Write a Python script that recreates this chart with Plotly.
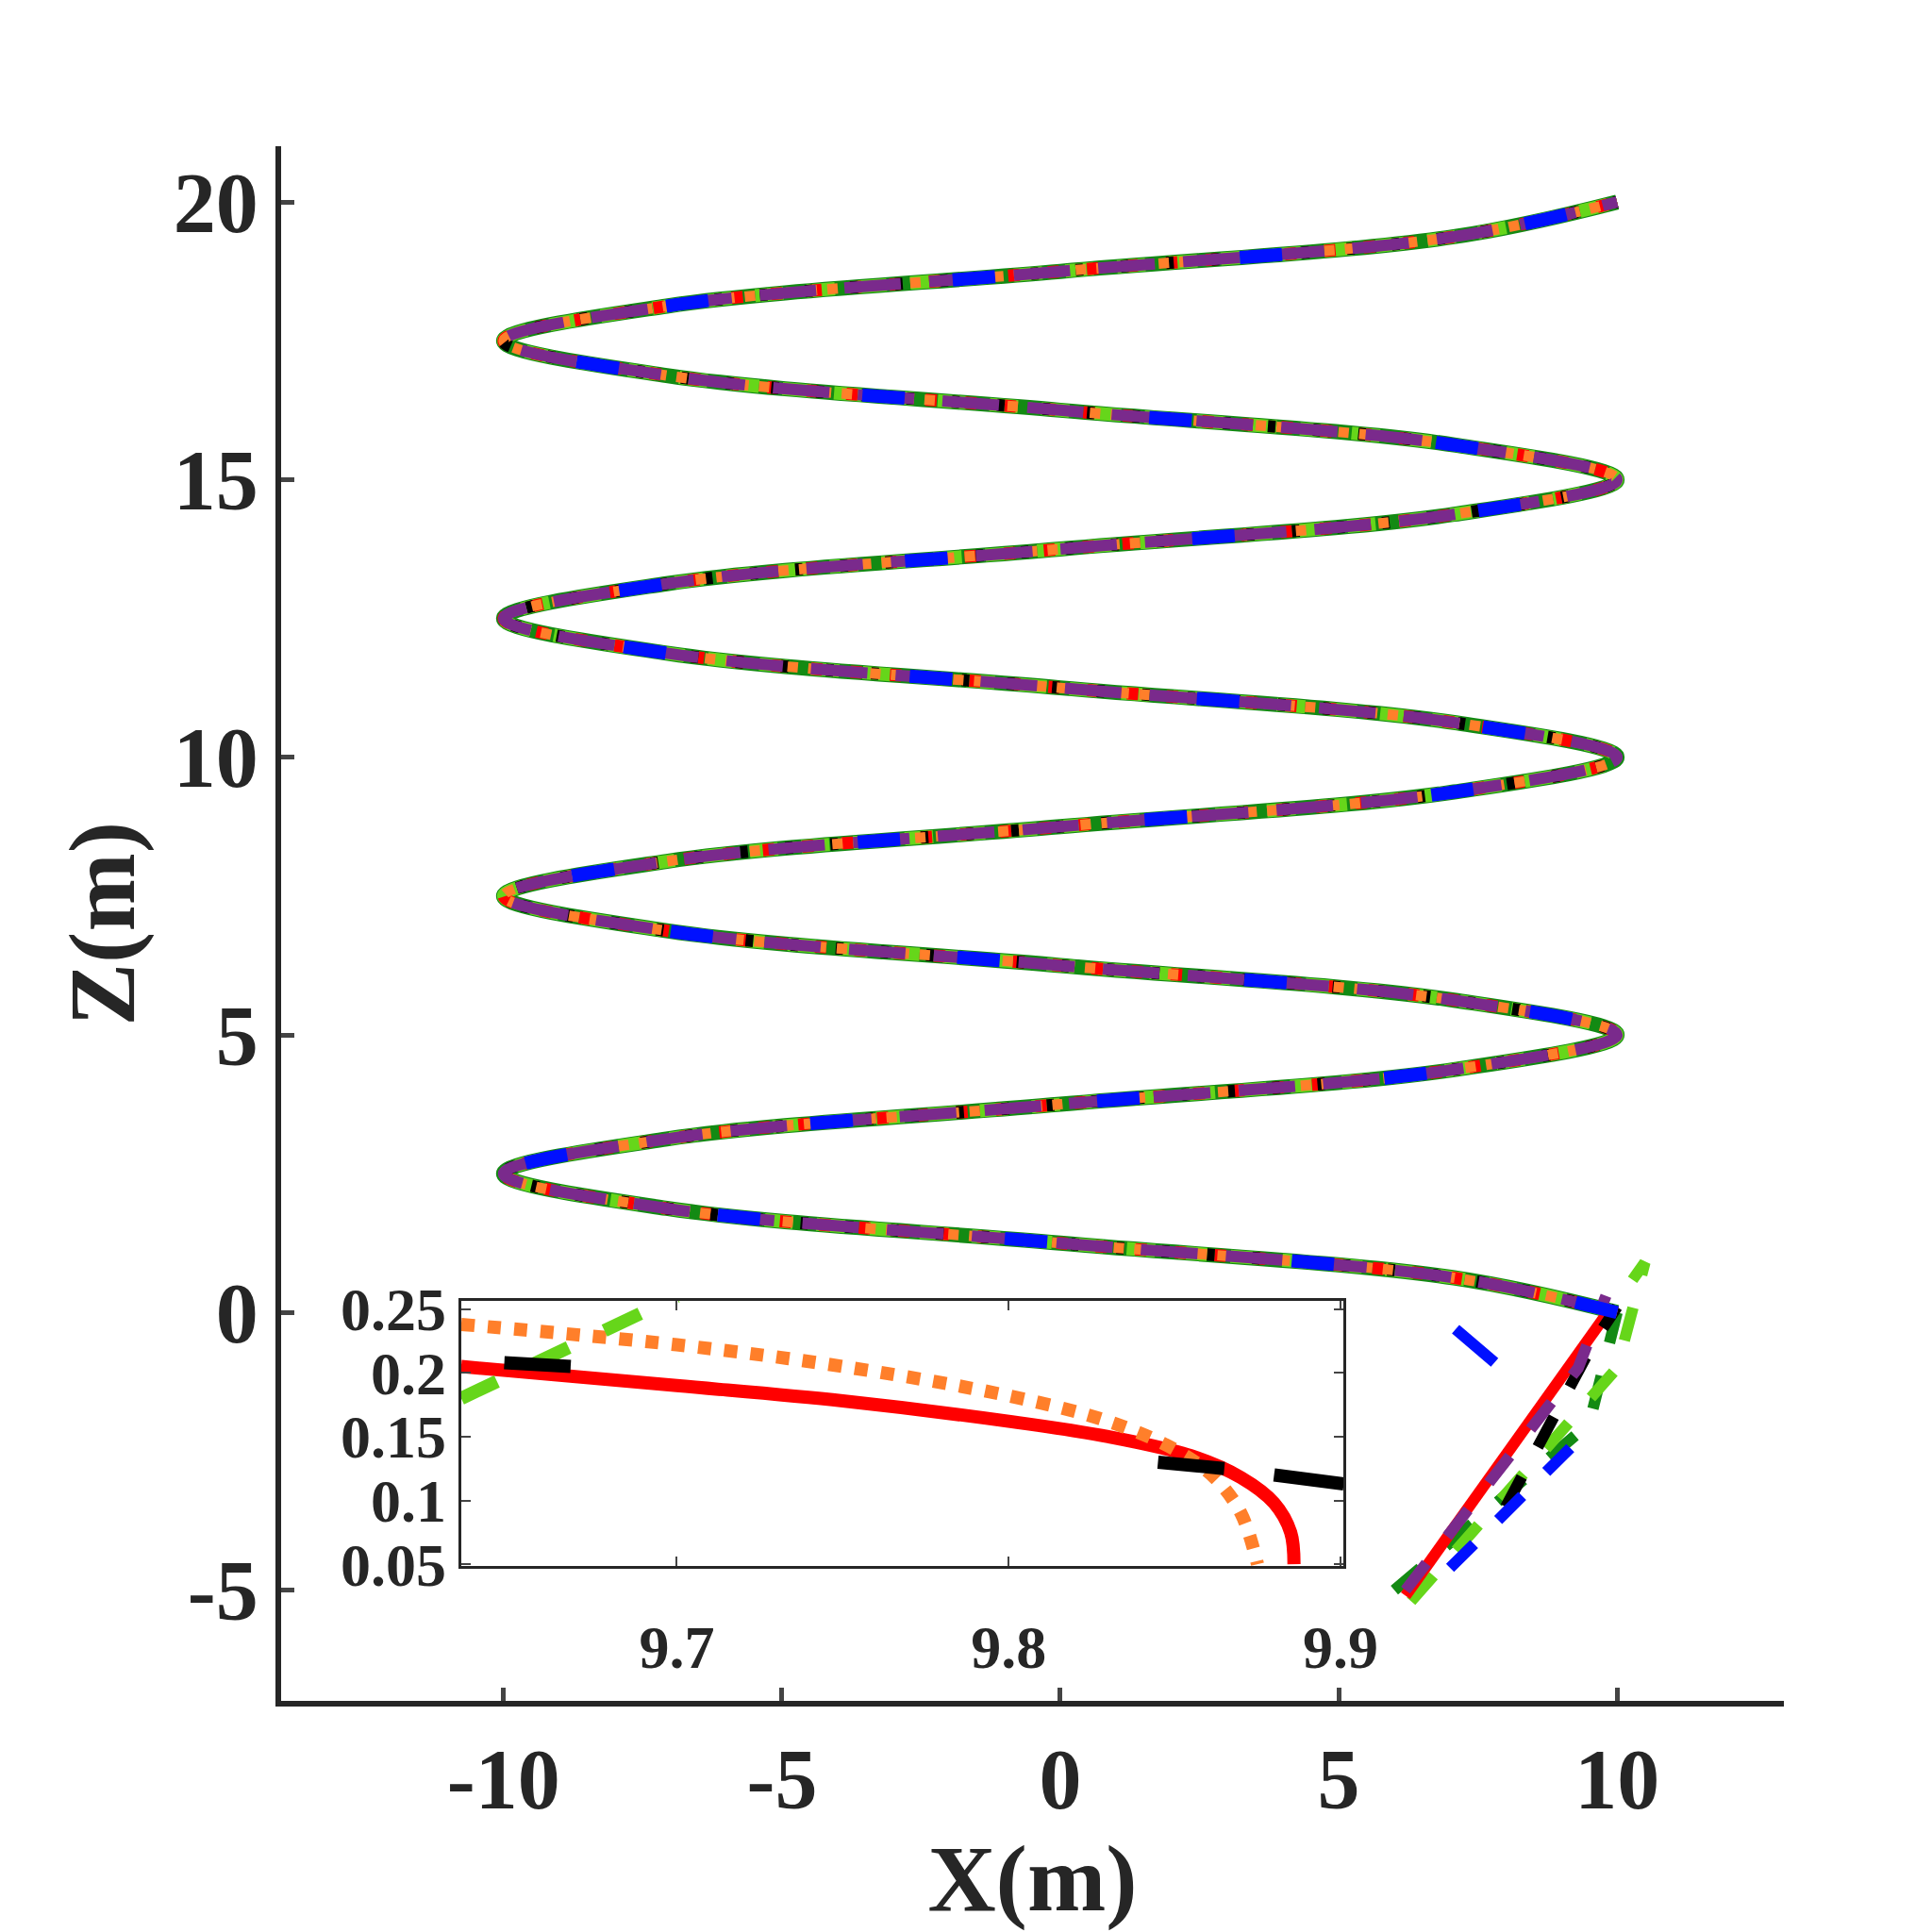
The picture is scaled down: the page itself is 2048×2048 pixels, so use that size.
import plotly.graph_objects as go

# helix points (x at each quarter of a half turn)
turn_x = [10, 7.07, 0, -7.07, -10, -7.07, 0, 7.07]
helix_x = turn_x * 4 + [10]
helix_z = [0, 0.625, 1.25, 1.875, 2.5, 3.125, 3.75, 4.375,
           5, 5.625, 6.25, 6.875, 7.5, 8.125, 8.75, 9.375,
           10, 10.625, 11.25, 11.875, 12.5, 13.125, 13.75, 14.375,
           15, 15.625, 16.25, 16.875, 17.5, 18.125, 18.75, 19.375, 20]

x_ticks = [-10, -5, 0, 5, 10]
x_labels = ["-10", "-5", "0", "5", "10"]
z_ticks = [-5, 0, 5, 10, 15, 20]
z_labels = ["-5", "0", "5", "10", "15", "20"]

# approach segments (start -> helix)
app = {
    "dgreen": ([6.0, 9.5, 10.0], [-5.0, -2.0, 0.0]),
    "lgreen": ([6.3, 10.0, 10.5, 10.0], [-5.2, -1.0, 0.9, 0.2]),
    "red": ([6.2, 9.9], [-5.1, 0.1]),
    "purple": ([6.2, 9.3, 9.8], [-5.0, -1.0, 0.3]),
    "blue": ([7.0, 9.2], [-4.6, -2.4]),
    "black": ([8.0, 9.6, 10.0], [-3.5, -0.5, 0.1]),
}
blue_extra_x = [7.1, 7.8]
blue_extra_z = [-0.3, -0.9]

# inset curves
in_red_x = [9.635, 9.7, 9.75, 9.8, 9.83, 9.855, 9.87, 9.88, 9.885, 9.886]
in_red_y = [0.205, 0.19, 0.178, 0.162, 0.150, 0.135, 0.118, 0.098, 0.075, 0.05]
in_org_x = [9.635, 9.7, 9.75, 9.8, 9.83, 9.85, 9.862, 9.87, 9.875]
in_org_y = [0.238, 0.222, 0.205, 0.182, 0.162, 0.14, 0.118, 0.09, 0.05]
in_lg_x = [9.635, 9.7]
in_lg_y = [0.18, 0.26]
in_bk_x = [9.648, 9.668, None, 9.845, 9.865, None, 9.88, 9.901]
in_bk_y = [0.208, 0.205, None, 0.130, 0.125, None, 0.12, 0.113]

C = dict(dgreen="#138a13", lgreen="#66d61a", red="#ff0000", black="#000000",
         orange="#ff7f2a", blue="#0010ff", purple="#7a2a8c")

fig = go.Figure()
main = [("dgreen", "solid", 16), ("lgreen", "30px,25px", 14),
        ("red", "12px,30px", 13), ("black", "8px,40px", 13), ("orange", "dot", 11),
        ("purple", "60px,30px", 12), ("blue", "45px,260px", 14)]
for k, d, w in main:
    fig.add_trace(go.Scatter(x=helix_x, y=helix_z, mode="lines",
                             line=dict(color=C[k], dash=d, width=w, shape="spline", smoothing=1.0),
                             showlegend=False))
    if k in app:
        fig.add_trace(go.Scatter(x=app[k][0], y=app[k][1], mode="lines",
                                 line=dict(color=C[k], dash="solid" if k == "red" else "dash", width=12),
                                 showlegend=False))
fig.add_trace(go.Scatter(x=blue_extra_x, y=blue_extra_z, mode="lines",
                         line=dict(color=C["blue"], width=12), showlegend=False))

for xs, ys, k, d, sh in [(in_red_x, in_red_y, "red", "solid", "spline"),
                         (in_org_x, in_org_y, "orange", "dot", "spline"),
                         (in_lg_x, in_lg_y, "lgreen", "dash", "linear"),
                         (in_bk_x, in_bk_y, "black", "solid", "linear")]:
    fig.add_trace(go.Scatter(x=xs, y=ys, mode="lines", xaxis="x2", yaxis="y2",
                             line=dict(color=C[k], dash=d, width=14, shape=sh),
                             showlegend=False))

font = dict(family="Liberation Serif", size=90, color="#262626", weight="bold")
ax = dict(ticks="inside", ticklen=14, tickwidth=5, showline=True, linewidth=6,
          linecolor="#262626", showgrid=False, zeroline=False, automargin=False,
          tickfont=dict(size=90, weight="bold"))
fig.update_layout(
    width=2048, height=2048, margin=dict(l=0, r=0, t=0, b=0),
    plot_bgcolor="white", paper_bgcolor="white", font=font,
    xaxis=dict(ax, domain=[0.144, 0.936], range=[-14, 13], tickvals=x_ticks, ticktext=x_labels,
               title=dict(text="X(m)", font=dict(size=100, weight="bold"), standoff=8)),
    yaxis=dict(ax, domain=[0.110, 0.939], range=[-7, 21], tickvals=z_ticks, ticktext=z_labels,
               title=dict(text="Z(m)", font=dict(size=100, weight="bold"), standoff=10)),
    xaxis2=dict(domain=[0.239, 0.704], anchor="y2", range=[9.635, 9.901],
                tickvals=[9.7, 9.8, 9.9], ticks="inside", ticklen=10, tickwidth=2,
                showline=True, mirror="ticks", linewidth=3, linecolor="#262626",
                showgrid=False, zeroline=False, tickfont=dict(size=64, weight="bold"),
                ticklabelstandoff=28),
    yaxis2=dict(domain=[0.182, 0.3235], anchor="x2", range=[0.0485, 0.2565],
                tickvals=[0.05, 0.1, 0.15, 0.2, 0.25], ticktext=["0.05", "0.1", "0.15", "0.2", "0.25"],
                ticks="inside", ticklen=10, tickwidth=2, showline=True, mirror="ticks",
                linewidth=3, linecolor="#262626", showgrid=False, zeroline=False,
                tickfont=dict(size=64, weight="bold")),
)
fig.add_shape(type="rect", xref="paper", yref="paper", x0=0.239, x1=0.704, y0=0.182, y1=0.3235,
              fillcolor="white", line=dict(width=0), layer="below")
fig.write_html("out.html")
